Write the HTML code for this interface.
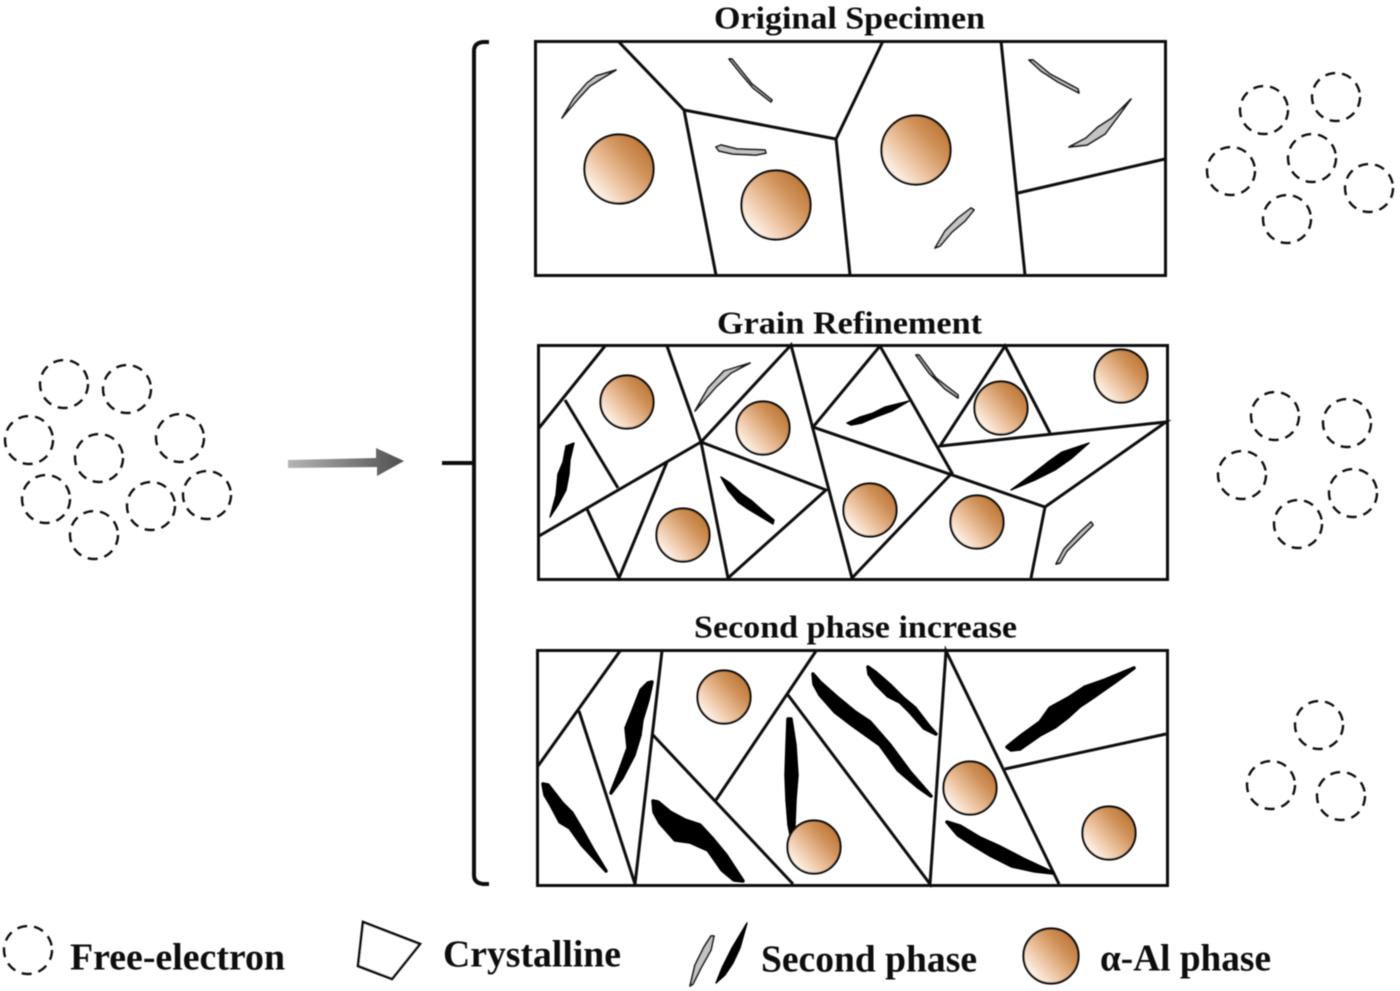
<!DOCTYPE html>
<html><head><meta charset="utf-8"><title>Diagram</title>
<style>
html,body{margin:0;padding:0;background:#fff;}
svg{display:block;}
text{font-family:"Liberation Serif","Noto Serif CJK SC",serif;font-weight:bold;fill:#0c0c0c;}
</style></head>
<body>
<svg width="1400" height="991" viewBox="0 0 1400 991" xmlns="http://www.w3.org/2000/svg">
<defs>
<linearGradient id="g" x1="0.12" y1="0.88" x2="0.88" y2="0.2">
<stop offset="0" stop-color="#fffaf4"/><stop offset="0.35" stop-color="#efc8a8"/><stop offset="0.75" stop-color="#d0925a"/><stop offset="1" stop-color="#bf7a3a"/>
</linearGradient>
<linearGradient id="ar" x1="0" y1="0" x2="1" y2="0">
<stop offset="0" stop-color="#b5b5b5"/><stop offset="1" stop-color="#4f4f4f"/>
</linearGradient>
<filter id="b" x="-2%" y="-2%" width="104%" height="104%"><feGaussianBlur stdDeviation="0.55"/></filter>
</defs>
<rect width="1400" height="991" fill="#fff"/>
<g filter="url(#b)">
<!-- titles -->
<text x="714" y="28.5" font-size="32" textLength="271" lengthAdjust="spacingAndGlyphs">Original Specimen</text>
<text x="717" y="333.5" font-size="32" textLength="265" lengthAdjust="spacingAndGlyphs">Grain Refinement</text>
<text x="694" y="637.5" font-size="32" textLength="323" lengthAdjust="spacingAndGlyphs">Second phase increase</text>

<!-- bracket and arrow -->
<path d="M489 42 L483 42 Q474 43 474 51 L474 875 Q474 883 483 884 L489 884" fill="none" stroke="#0c0c0c" stroke-width="4"/>
<path d="M442 463 L474 463" stroke="#0c0c0c" stroke-width="4" fill="none"/>
<polygon points="288,460 376,458 376,448 404,461 377,476 377,467 288,468" fill="url(#ar)"/>

<!-- panels -->
<g fill="none" stroke="#0c0c0c" stroke-width="3">
<rect x="535.5" y="41.5" width="630" height="234"/>
<path d="M618 41L684 110L716 275M684 110L836 139L883 41M836 139L850 275M1001 41L1025 275M1018 193L1165 159"/>
<rect x="538.5" y="345.5" width="629" height="234"/>
<path d="M605 346L539 428M565 400L618 488M667 346L701 442L791 345L852 578M701 442L539 536M667 462L619 578L587 509M701 442L728 578L826 490L701 442M880 346L813 427L1045 507L1166 422L940 446L1005 346L1050 433M880 346L952 473L852 578M1045 507L1031 578"/>
<rect x="537.5" y="650.5" width="630" height="235"/>
<path d="M620 651L538 766M579 711L635 884L662 651M652 734L793 884M816 651L716 800M788 695L930 884L946 651L1059 884M1005 769L1166 734"/>
</g>

<!-- second phase grey -->
<g fill="#c4c4c4" stroke="#1c1c1c" stroke-width="1.7" stroke-linejoin="round">
<polygon points="562,118 574,98 587,83 596,76 616,70 601,79 590,86 578,99"/>
<polygon points="729,59 732,59 752,84 772,100 771,102 753,88 741,74"/>
<polygon points="716,147 721,145 737,149 765,150 766,153 756,155 733,154 719,151"/>
<polygon points="935,248 945,231 958,218 971,208 974,210 965,221 952,232 940,246"/>
<polygon points="1029,60 1033,60 1050,74 1078,89 1079,93 1058,82 1041,71"/>
<polygon points="1069,147 1086,138 1098,127 1112,118 1131,99 1117,118 1105,134 1087,145"/>
<polygon points="695,411 708,388 724,371 750,363 731,373 716,387"/>
<polygon points="916,355 919,355 936,378 958,395 958,398 945,389 929,373"/>
<polygon points="1056,564 1064,549 1080,532 1091,522 1093,525 1081,537 1067,551 1060,563"/>
<polygon points="690,986 695,965 704,947 711,936 714,936 711,950 701,968 693,984"/>
</g>

<!-- second phase black -->
<g fill="#060606" stroke="#060606" stroke-width="1.4" stroke-linejoin="round">
<polygon points="550,517 556,495 558,474 563,462 566,446 574,443 570,460 569,474 566,490 558,505"/>
<polygon points="847,423 860,417 873,413 885,407 909,401 892,411 876,417 862,423 851,425"/>
<polygon points="1011,490 1030,476 1048,462 1062,452 1089,443 1072,458 1055,470 1035,480"/>
<polygon points="721,477 730,483 742,494 752,501 762,510 774,520 773,524 758,515 748,509 738,502 728,490"/>
<polygon points="716,983 722,968 727,958 732,948 747,923 740,948 733,963 725,975"/>
</g>
<g fill="#060606" stroke="#060606" stroke-width="3.5" stroke-linejoin="round">
<polygon points="543,784 548,785 562,803 572,813 582,830 592,848 606,871 594,858 582,845 570,828 560,822 551,805 545,795"/>
<polygon points="611,793 620,770 628,748 626,728 634,708 641,690 648,683 652,682 648,700 642,720 640,735 634,755 622,778"/>
<polygon points="653,801 658,802 670,812 685,820 700,825 712,838 726,855 743,881 734,880 722,870 708,850 690,842 675,840 660,823 654,812"/>
<polygon points="788,719 791,719 795,745 797,775 795,800 794,825 792,840 789,825 787,800 786,775 787,745"/>
<polygon points="813,674 820,682 838,698 855,712 870,722 890,745 910,772 931,796 918,787 898,770 880,745 866,735 852,725 835,712 820,695 814,684"/>
<polygon points="868,667 875,672 890,685 903,698 915,708 928,725 936,734 924,728 910,712 900,702 888,696 876,684 869,674"/>
<polygon points="947,822 960,826 980,838 1000,847 1025,860 1053,873 1035,871 1012,866 990,855 975,846 958,835"/>
<polygon points="1007,747 1022,735 1040,722 1050,708 1070,697 1085,687 1105,680 1134,668 1115,682 1095,696 1080,706 1068,717 1055,727 1040,735 1020,749 1011,750"/>
</g>

<!-- alpha-Al circles -->
<g fill="url(#g)" stroke="#0c0c0c" stroke-width="2.2">
<circle cx="619" cy="169" r="34.5"/>
<circle cx="776" cy="205" r="34.5"/>
<circle cx="916" cy="150" r="34.5"/>
<circle cx="627" cy="402" r="26.5"/>
<circle cx="763" cy="428" r="26.5"/>
<circle cx="683" cy="535" r="26.5"/>
<circle cx="870" cy="510" r="26.5"/>
<circle cx="977" cy="522" r="26.5"/>
<circle cx="1001" cy="408" r="26.5"/>
<circle cx="1121" cy="376" r="26.5"/>
<circle cx="724" cy="697" r="26.5"/>
<circle cx="814" cy="847" r="26.5"/>
<circle cx="970" cy="788" r="26.5"/>
<circle cx="1109" cy="833" r="26.5"/>
<circle cx="1051" cy="956" r="27.5"/>
</g>

<!-- electrons -->
<g fill="none" stroke="#111" stroke-width="2.4" stroke-dasharray="10 7">
<circle cx="64" cy="384" r="24"/><circle cx="127" cy="389" r="24"/><circle cx="29" cy="440" r="24"/>
<circle cx="180" cy="438" r="24"/><circle cx="99" cy="458" r="24"/><circle cx="46" cy="499" r="24"/>
<circle cx="151" cy="506" r="24"/><circle cx="207" cy="495" r="24"/><circle cx="94" cy="535" r="24"/>
<circle cx="1264" cy="110" r="24"/><circle cx="1336" cy="97" r="24"/><circle cx="1231" cy="171" r="24"/>
<circle cx="1312" cy="158" r="24"/><circle cx="1369" cy="188" r="24"/><circle cx="1287" cy="219" r="24"/>
<circle cx="1275" cy="416" r="24"/><circle cx="1347" cy="423" r="24"/><circle cx="1242" cy="475" r="24"/>
<circle cx="1353" cy="493" r="24"/><circle cx="1298" cy="524" r="24"/>
<circle cx="1319" cy="725" r="24"/><circle cx="1271" cy="785" r="24"/><circle cx="1341" cy="796" r="24"/>
<circle cx="28" cy="950" r="24"/>
</g>

<!-- legend -->
<polygon points="363,922 420,944 392,979 358,966" fill="#fff" stroke="#0c0c0c" stroke-width="2.6"/>
<text x="70" y="969.5" font-size="38" textLength="215" lengthAdjust="spacingAndGlyphs">Free-electron</text>
<text x="443" y="966.5" font-size="38" textLength="178" lengthAdjust="spacingAndGlyphs">Crystalline</text>
<text x="761" y="971.5" font-size="38" textLength="216" lengthAdjust="spacingAndGlyphs">Second phase</text>
<text x="1100" y="970.5" font-size="38" textLength="171" lengthAdjust="spacingAndGlyphs">α-Al phase</text>
</g>
</svg>
</body></html>
